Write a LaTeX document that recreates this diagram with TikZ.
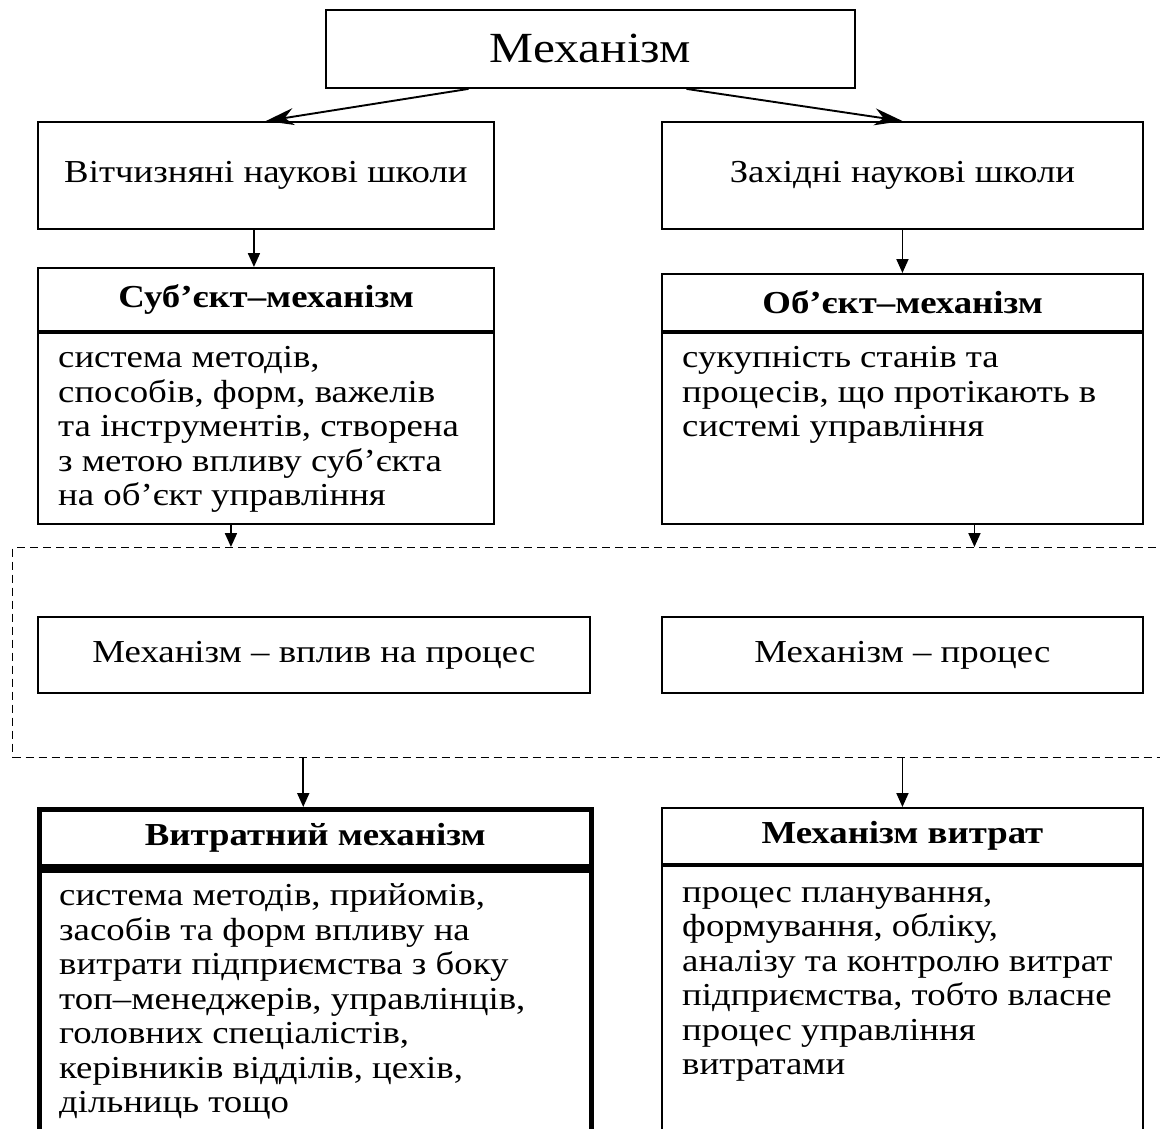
\documentclass[tikz,border=0pt]{standalone}
\usepackage{fontspec}
\setmainfont{Liberation Serif}[FakeStretch=1.15]
\usetikzlibrary{arrows.meta}

\begin{document}
\begin{tikzpicture}[x=1pt, y=-1pt,
  box/.style={draw, line width=1.9pt, inner sep=0pt, anchor=north west, font=\fontsize{32}{34}\selectfont},
  headbox/.style={box, line width=2.4pt, font=\fontsize{32}{34}\selectfont\bfseries},
  txt/.style={inner sep=0pt, anchor=north west, align=left, font=\fontsize{32}{34.5}\selectfont},
  arr/.style={line width=1.9pt, -{Triangle[length=14pt,width=12pt]}},
  diag/.style={line width=1.9pt, -{Stealth[length=28pt,width=17pt,inset=9pt]}},
  dashbox/.style={draw, line width=1.4pt, dash pattern=on 8pt off 5pt, inner sep=0pt, anchor=north west}]

\useasboundingbox (0,0) rectangle (1160,1129);
\clip (0,0) rectangle (1160,1129);

% top level
\node[box, minimum width=529, minimum height=78, font=\fontsize{43}{46}\selectfont] (mech) at (325,9) {Механізм};
\node[box, minimum width=456, minimum height=107] (nat) at (37,121) {Вітчизняні наукові школи};
\node[box, minimum width=481, minimum height=107] (west) at (661,121) {Західні наукові школи};

\draw[diag] ([xshift=-122pt]mech.south) -- (nat.north);
\draw[diag] ([xshift=96pt]mech.south) -- (west.north);

% subject / object
\node[headbox, minimum width=456, minimum height=63] (subjhead) at (37,267) {Суб’єкт–механізм};
\node[headbox, line width=1.9pt, minimum width=456, minimum height=191] (subjbody) at (subjhead.south west) {};
\node[txt] (subjtxt) at ([shift={(21,11)}]subjbody.north west)
  {\strut система методів,\\способів, форм, важелів\\та інструментів, створена\\з метою впливу суб’єкта\\на об’єкт управління};

\node[headbox, minimum width=481, minimum height=57] (objhead) at (661,273) {Об’єкт–механізм};
\node[headbox, line width=1.9pt, minimum width=481, minimum height=191] (objbody) at (objhead.south west) {};
\node[txt] (objtxt) at ([shift={(21,11)}]objbody.north west)
  {\strut сукупність станів та\\процесів, що протікають в\\системі управління};

\draw[arr] ([xshift=-12pt]nat.south) -- ([xshift=-12pt]nat.south |- subjhead.north);
\draw[arr] (west.south) -- (west.south |- objhead.north);

% dashed group
\node[dashbox, minimum width=1175, minimum height=210] (grp) at (12,547) {};
\node[box, minimum width=552, minimum height=76] (infl) at (37,616) {Механізм – вплив на процес};
\node[box, minimum width=481, minimum height=76] (proc) at (661,616) {Механізм – процес};

\draw[arr] ([xshift=-35pt]subjbody.south) -- ([xshift=-35pt]subjbody.south |- grp.north);
\draw[arr] ([xshift=72pt]objbody.south) -- ([xshift=72pt]objbody.south |- grp.north);

% costs
\node[headbox, line width=4.5pt, minimum width=552, minimum height=57] (costhead) at (37,807) {Витратний механізм};
\node[headbox, line width=4.5pt, minimum width=552, minimum height=330] (costbody) at (costhead.south west) {};
\node[txt] (costtxt) at ([shift={(22,13)}]costbody.north west)
  {\strut система методів, прийомів,\\засобів та форм впливу на\\витрати підприємства з боку\\топ–менеджерів, управлінців,\\головних спеціалістів,\\керівників відділів, цехів,\\дільниць тощо};

\node[headbox, line width=1.9pt, minimum width=481, minimum height=56] (exphead) at (661,807) {Механізм витрат};
\node[headbox, line width=1.9pt, minimum width=481, minimum height=330] (expbody) at (exphead.south west) {};
\node[txt] (exptxt) at ([shift={(21,13)}]expbody.north west)
  {\strut процес планування,\\формування, обліку,\\аналізу та контролю витрат\\підприємства, тобто власне\\процес управління\\витратами};

\draw[arr] ([xshift=-12pt]costhead.north |- grp.south) -- ([xshift=-12pt]costhead.north);
\draw[arr] (exphead.north |- grp.south) -- (exphead.north);
\end{tikzpicture}
\end{document}
